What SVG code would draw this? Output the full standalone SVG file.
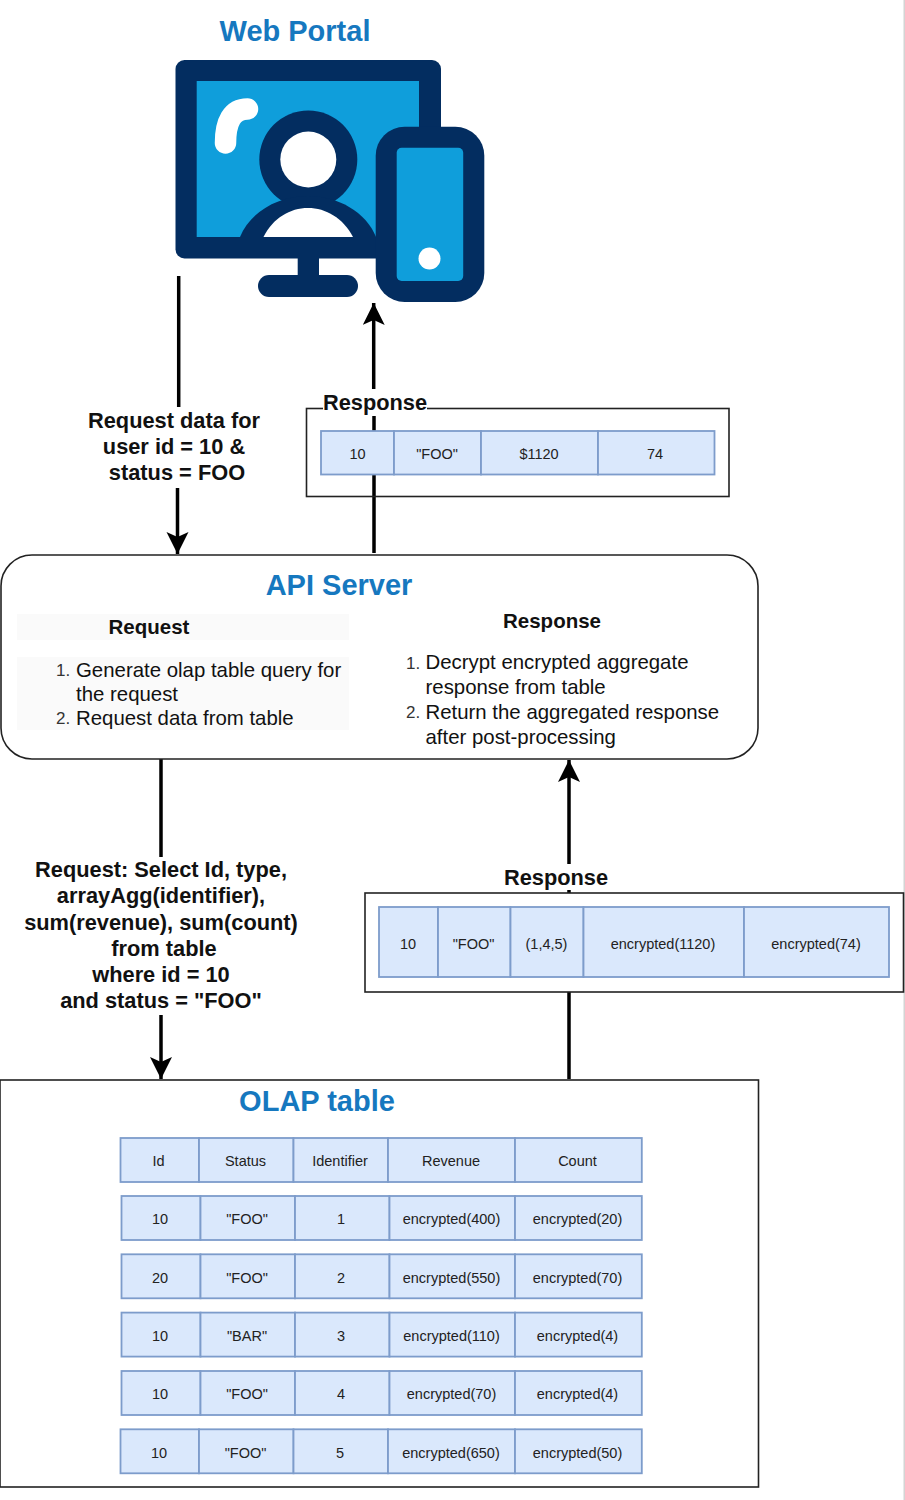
<svg xmlns="http://www.w3.org/2000/svg" width="905" height="1500" viewBox="0 0 905 1500">
<style>
text{font-family:"Liberation Sans",Arial,sans-serif;fill:#111}
.t{font-size:29px;font-weight:bold;fill:#1678bf;text-anchor:middle}
.l{font-size:21.8px;font-weight:bold;text-anchor:middle}
.h{font-size:20.5px;font-weight:bold;text-anchor:middle}
.b{font-size:20.4px}
.n{font-size:17px;fill:#333}
.c{font-size:14.5px;text-anchor:middle;fill:#222}
.cell{fill:#dae8fc;stroke:#7d9ccb;stroke-width:1.8}
.box{stroke:#222;stroke-width:1.6}
.conn{fill:none;stroke:#000;stroke-width:3.5}
</style>
<defs>
<marker id="arrow" markerUnits="userSpaceOnUse" markerWidth="24" markerHeight="24" refX="22" refY="11" orient="auto">
<path d="M0 0L22 11L0 22L5 11Z" fill="#000"/>
</marker>
</defs>
<rect x="903.500" width="1.500" height="1500" fill="#d4d4d4"/>
<g id="web-portal">
<text class="t" x="295" y="41">Web Portal</text>
<rect x="175.500" y="60" width="265.500" height="198.500" rx="9" fill="#032d60"/>
<rect x="196.700" y="81" width="222.300" height="156" fill="#0f9edb"/>
<path d="M225.500 143C225.500 122 232 109 247.500 109" fill="none" stroke="#fff" stroke-width="21.500" stroke-linecap="round"/>
<circle cx="308.300" cy="159.500" r="49" fill="#032d60"/>
<circle cx="308.300" cy="159.500" r="28" fill="#fff"/>
<path d="M240 237C250 212 278 196 308 196C338 196 366 212 376 237Z" fill="#032d60"/>
<path d="M263.500 237C273 218 290 208 308 208C326 208 343 218 353 237Z" fill="#fff"/>
<rect x="297.700" y="258" width="21.300" height="20" fill="#032d60"/>
<rect x="258" y="275" width="100" height="22" rx="11" fill="#032d60"/>
<rect x="375.700" y="126.700" width="108.600" height="175.300" rx="29" fill="#032d60"/>
<rect x="396.700" y="147.700" width="66.500" height="133.300" rx="5" fill="#0f9edb"/>
<circle cx="429.500" cy="258.500" r="11" fill="#fff"/>
</g>
<g id="connectors">
<path class="conn" d="M178.700 276V407"/>
<path class="conn" d="M177.500 488V554" marker-end="url(#arrow)"/>
<path class="conn" d="M374 553V475M374 431V416"/>
<path class="conn" d="M373.700 389V303" marker-end="url(#arrow)"/>
<path class="conn" d="M161 759V857"/>
<path class="conn" d="M161 1015V1079" marker-end="url(#arrow)"/>
<path class="conn" d="M569 1079V992M569 893V890"/>
<path class="conn" d="M569 864V760" marker-end="url(#arrow)"/>
</g>
<g id="request-label">
<text class="l" x="174" y="428">Request data for</text>
<text class="l" x="174" y="454">user id = 10 &amp;</text>
<text class="l" x="177" y="480">status = FOO</text>
</g>
<g id="response-top">
<rect class="box" x="306.500" y="408.500" width="422.500" height="88" fill="none"/>
<rect x="323" y="390" width="104" height="25" fill="#fff"/>
<text class="l" x="375" y="409.500">Response</text>
<rect class="cell" x="321" y="431" width="73" height="43.500"/>
<rect class="cell" x="394" y="431" width="87" height="43.500"/>
<rect class="cell" x="481" y="431" width="117" height="43.500"/>
<rect class="cell" x="598" y="431" width="116.500" height="43.500"/>
<text class="c" x="357.500" y="459">10</text>
<text class="c" x="437" y="459">"FOO"</text>
<text class="c" x="539" y="459">$1120</text>
<text class="c" x="655" y="459">74</text>
</g>
<g id="api-server">
<rect class="box" x="1" y="555" width="757" height="204" rx="31" fill="#fff"/>
<text class="t" x="339" y="595">API Server</text>
<rect x="17" y="614" width="332" height="26" fill="#fafafa"/>
<rect x="17" y="657" width="332" height="73" fill="#fafafa"/>
<text class="h" x="149" y="634">Request</text>
<text class="n" x="56" y="676">1.</text>
<text class="b" x="76" y="676.500">Generate olap table query for</text>
<text class="b" x="76" y="701">the request</text>
<text class="n" x="56" y="724">2.</text>
<text class="b" x="76" y="724.500">Request data from table</text>
<text class="h" x="552" y="628">Response</text>
<text class="n" x="406" y="669">1.</text>
<text class="b" x="425.500" y="669">Decrypt encrypted aggregate</text>
<text class="b" x="425.500" y="694">response from table</text>
<text class="n" x="406" y="718">2.</text>
<text class="b" x="425.500" y="718.500">Return the aggregated response</text>
<text class="b" x="425.500" y="743.500">after post-processing</text>
</g>
<g id="query-label">
<text class="l" x="161" y="877">Request: Select Id, type,</text>
<text class="l" x="161" y="903">arrayAgg(identifier),</text>
<text class="l" x="161" y="929.500">sum(revenue), sum(count)</text>
<text class="l" x="164" y="955.500">from table</text>
<text class="l" x="161" y="981.500">where id = 10</text>
<text class="l" x="161" y="1008">and status = "FOO"</text>
</g>
<g id="response-bottom">
<text class="l" x="556" y="884.500">Response</text>
<rect class="box" x="365" y="893" width="538.500" height="99" fill="#fff"/>
<rect class="cell" x="379" y="907" width="59" height="70"/>
<rect class="cell" x="438" y="907" width="72.500" height="70"/>
<rect class="cell" x="510.500" y="907" width="73" height="70"/>
<rect class="cell" x="583.500" y="907" width="160.500" height="70"/>
<rect class="cell" x="744" y="907" width="145" height="70"/>
<text class="c" x="408" y="949">10</text>
<text class="c" x="473.500" y="949">"FOO"</text>
<text class="c" x="546.500" y="949">(1,4,5)</text>
<text class="c" x="663" y="949">encrypted(1120)</text>
<text class="c" x="816" y="949">encrypted(74)</text>
</g>
<g id="olap-table">
<rect class="box" x="0" y="1080" width="758.500" height="407" fill="#fff"/>
<text class="t" x="317" y="1111">OLAP table</text>
<rect class="cell" x="120.500" y="1138" width="78.500" height="44"/><rect class="cell" x="199" y="1138" width="94.500" height="44"/><rect class="cell" x="293.500" y="1138" width="94.500" height="44"/><rect class="cell" x="388" y="1138" width="127" height="44"/><rect class="cell" x="515" y="1138" width="126.800" height="44"/>
<text class="c" x="158.500" y="1166">Id</text><text class="c" x="245.500" y="1166">Status</text><text class="c" x="340" y="1166">Identifier</text><text class="c" x="451" y="1166">Revenue</text><text class="c" x="577.500" y="1166">Count</text>
<rect class="cell" x="121.500" y="1196" width="79" height="44"/><rect class="cell" x="200.500" y="1196" width="94.500" height="44"/><rect class="cell" x="295" y="1196" width="94.500" height="44"/><rect class="cell" x="389.500" y="1196" width="125.500" height="44"/><rect class="cell" x="515" y="1196" width="126.800" height="44"/>
<text class="c" x="160" y="1224">10</text><text class="c" x="247" y="1224">"FOO"</text><text class="c" x="341" y="1224">1</text><text class="c" x="451.500" y="1224">encrypted(400)</text><text class="c" x="577.500" y="1224">encrypted(20)</text>
<rect class="cell" x="121.500" y="1254.300" width="79" height="44"/><rect class="cell" x="200.500" y="1254.300" width="94.500" height="44"/><rect class="cell" x="295" y="1254.300" width="94.500" height="44"/><rect class="cell" x="389.500" y="1254.300" width="125.500" height="44"/><rect class="cell" x="515" y="1254.300" width="126.800" height="44"/>
<text class="c" x="160" y="1282.500">20</text><text class="c" x="247" y="1282.500">"FOO"</text><text class="c" x="341" y="1282.500">2</text><text class="c" x="451.500" y="1282.500">encrypted(550)</text><text class="c" x="577.500" y="1282.500">encrypted(70)</text>
<rect class="cell" x="121.500" y="1312.600" width="79" height="44"/><rect class="cell" x="200.500" y="1312.600" width="94.500" height="44"/><rect class="cell" x="295" y="1312.600" width="94.500" height="44"/><rect class="cell" x="389.500" y="1312.600" width="125.500" height="44"/><rect class="cell" x="515" y="1312.600" width="126.800" height="44"/>
<text class="c" x="160" y="1341">10</text><text class="c" x="247" y="1341">"BAR"</text><text class="c" x="341" y="1341">3</text><text class="c" x="451.500" y="1341">encrypted(110)</text><text class="c" x="577.500" y="1341">encrypted(4)</text>
<rect class="cell" x="121.500" y="1371" width="79" height="44"/><rect class="cell" x="200.500" y="1371" width="94.500" height="44"/><rect class="cell" x="295" y="1371" width="94.500" height="44"/><rect class="cell" x="389.500" y="1371" width="125.500" height="44"/><rect class="cell" x="515" y="1371" width="126.800" height="44"/>
<text class="c" x="160" y="1399">10</text><text class="c" x="247" y="1399">"FOO"</text><text class="c" x="341" y="1399">4</text><text class="c" x="451.500" y="1399">encrypted(70)</text><text class="c" x="577.500" y="1399">encrypted(4)</text>
<rect class="cell" x="120.500" y="1429.300" width="78.500" height="44"/><rect class="cell" x="199" y="1429.300" width="94.500" height="44"/><rect class="cell" x="293.500" y="1429.300" width="94.500" height="44"/><rect class="cell" x="388" y="1429.300" width="127" height="44"/><rect class="cell" x="515" y="1429.300" width="126.800" height="44"/>
<text class="c" x="159" y="1457.500">10</text><text class="c" x="245.500" y="1457.500">"FOO"</text><text class="c" x="340" y="1457.500">5</text><text class="c" x="451" y="1457.500">encrypted(650)</text><text class="c" x="577.500" y="1457.500">encrypted(50)</text>
</g>
</svg>
